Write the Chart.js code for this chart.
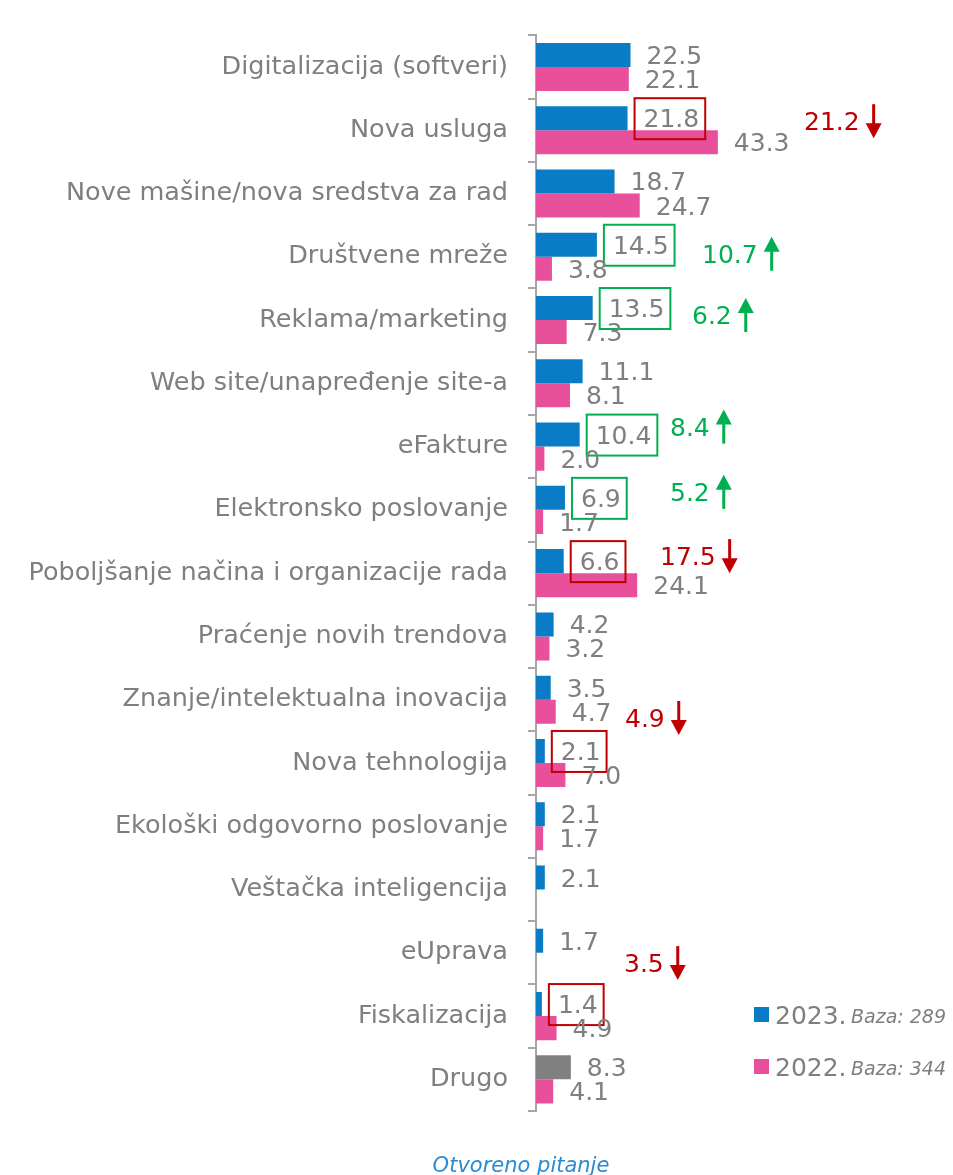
<!DOCTYPE html>
<html>
<head>
<meta charset="utf-8">
<script src="https://cdn.jsdelivr.net/npm/chart.js@4.4.0/dist/chart.umd.min.js"></script>
<style>
  html, body { margin: 0; padding: 0; background: #fff; }
</style>
</head>
<body>
<canvas id="myChart" width="953" height="1175"></canvas>
<script>
const categories = [
  'Digitalizacija (softveri)',
  'Nova usluga',
  'Nove mašine/nova sredstva za rad',
  'Društvene mreže',
  'Reklama/marketing',
  'Web site/unapređenje site-a',
  'eFakture',
  'Elektronsko poslovanje',
  'Poboljšanje načina i organizacije rada',
  'Praćenje novih trendova',
  'Znanje/intelektualna inovacija',
  'Nova tehnologija',
  'Ekološki odgovorno poslovanje',
  'Veštačka inteligencija',
  'eUprava',
  'Fiskalizacija',
  'Drugo'
];
const values2023 = [22.5, 21.8, 18.7, 14.5, 13.5, 11.1, 10.4, 6.9, 6.6, 4.2, 3.5, 2.1, 2.1, 2.1, 1.7, 1.4, 8.3];
const values2022 = [22.1, 43.3, 24.7, 3.8, 7.3, 8.1, 2.0, 1.7, 24.1, 3.2, 4.7, 7.0, 1.7, null, null, 4.9, 4.1];
// significant changes 2022 -> 2023 (null = no callout)
const changeValues = [null, 21.2, null, 10.7, 6.2, null, 8.4, 5.2, 17.5, null, null, 4.9, null, null, null, 3.5, null];
const seriesLabels = ['2023.', '2022.'];
const baseLabels = ['Baza: 289', 'Baza: 344'];
const footnote = 'Otvoreno pitanje';

const BLUE = '#0a7cc6';
const PINK = '#e8509c';
const GREY_BAR = '#808080';
const TEXT = '#7f7f7f';
const RED = '#c00000';
const GREEN = '#00b050';
const FONT = '"DejaVu Sans"';

// where each change callout sits: [px right of the axis, px from row centre]
const changeLayout = {
  1: [268, -9], 3: [166, -3], 4: [156, -5], 6: [134, -20],
  7: [134, -18], 8: [124, -17], 11: [89, -45], 15: [88, -53]
};

function isUp(i) {
  return values2023[i] > (values2022[i] || 0);
}

function drawArrow(ctx, x, cy, up, color) {
  const len = 34, head = 15, hw = 8;
  const top = cy - len / 2, bot = cy + len / 2;
  ctx.strokeStyle = color;
  ctx.fillStyle = color;
  ctx.lineWidth = 3;
  ctx.beginPath();
  if (up) { ctx.moveTo(x, bot); ctx.lineTo(x, top + head - 1); }
  else { ctx.moveTo(x, top); ctx.lineTo(x, bot - head + 1); }
  ctx.stroke();
  ctx.beginPath();
  if (up) { ctx.moveTo(x, top); ctx.lineTo(x - hw, top + head); ctx.lineTo(x + hw, top + head); }
  else { ctx.moveTo(x, bot); ctx.lineTo(x - hw, bot - head); ctx.lineTo(x + hw, bot - head); }
  ctx.closePath();
  ctx.fill();
}

const annotations = {
  id: 'annotations',
  afterDatasetsDraw(chart) {
    const ctx = chart.ctx;
    const yScale = chart.scales.y;
    const left = chart.chartArea.left;
    ctx.save();
    ctx.font = '25px ' + FONT;
    ctx.textBaseline = 'alphabetic';
    ctx.textAlign = 'left';

    // value labels + boxes
    chart.data.datasets.forEach((ds, di) => {
      const meta = chart.getDatasetMeta(di);
      meta.data.forEach((bar, i) => {
        const v = ds.data[i];
        if (v === null || v === undefined) return;
        const txt = v.toFixed(1);
        const x = bar.x + 16;
        const y = bar.y;
        ctx.fillStyle = TEXT;
        ctx.fillText(txt, x, y + 9);
        if (di === 0 && changeValues[i] !== null) {
          const w = ctx.measureText(txt).width;
          ctx.strokeStyle = isUp(i) ? GREEN : RED;
          ctx.lineWidth = 2;
          ctx.strokeRect(x - 9, y - 20, w + 15, 41);
        }
      });
    });

    // change callouts
    changeValues.forEach((cv, i) => {
      if (cv === null) return;
      const up = isUp(i);
      const color = up ? GREEN : RED;
      const [dx, dy] = changeLayout[i];
      const cy = yScale.getPixelForValue(i) + dy;
      const txt = cv.toFixed(1);
      ctx.fillStyle = color;
      ctx.fillText(txt, left + dx, cy + 9);
      const w = ctx.measureText(txt).width;
      drawArrow(ctx, left + dx + w + 14, cy, up, color);
    });

    // legend
    const legendColors = [BLUE, PINK];
    const rows = [1015, 1067];
    seriesLabels.forEach((lab, k) => {
      ctx.fillStyle = legendColors[k];
      ctx.fillRect(754, rows[k] - 8, 15, 15);
      ctx.fillStyle = TEXT;
      ctx.font = '25px ' + FONT;
      ctx.fillText(lab, 775, rows[k] + 9);
      ctx.font = 'italic 19px ' + FONT;
      ctx.fillText(baseLabels[k], 851, rows[k] + 8);
    });

    // footnote
    ctx.font = 'italic 21px ' + FONT;
    ctx.fillStyle = '#2a8bd2';
    ctx.textAlign = 'center';
    ctx.fillText(footnote, 521, 1172);
    ctx.restore();
  }
};

const ctx = document.getElementById('myChart').getContext('2d');

const chartData = {
  labels: categories,
  datasets: [
    {
      label: seriesLabels[0],
      data: values2023,
      backgroundColor: categories.map((c, i) => i === categories.length - 1 ? GREY_BAR : BLUE),
      categoryPercentage: 0.76,
      barPercentage: 1.0,
      borderWidth: 0
    },
    {
      label: seriesLabels[1],
      data: values2022,
      backgroundColor: PINK,
      categoryPercentage: 0.76,
      barPercentage: 1.0,
      borderWidth: 0
    }
  ]
};

const myChart = new Chart(ctx, {
  type: 'bar',
  data: chartData,
  options: {
    indexAxis: 'y',
    responsive: false,
    animation: false,
    devicePixelRatio: 1,
    layout: { padding: { top: 32, bottom: 64, left: 0, right: 39 } },
    plugins: {
      legend: { display: false },
      tooltip: { enabled: false }
    },
    scales: {
      x: { display: false, min: 0, max: 90 },
      y: {
        afterFit(scale) { scale.width = 536; },
        grid: {
          offset: true,
          drawOnChartArea: false,
          drawTicks: true,
          tickLength: 8,
          color: '#a6a6a6',
          lineWidth: 2
        },
        border: { display: true, color: '#a6a6a6', width: 2 },
        ticks: {
          color: TEXT,
          font: { family: 'DejaVu Sans', size: 25.5 },
          padding: 20,
          autoSkip: false
        }
      }
    }
  },
  plugins: [annotations]
});
</script>
</body>
</html>
